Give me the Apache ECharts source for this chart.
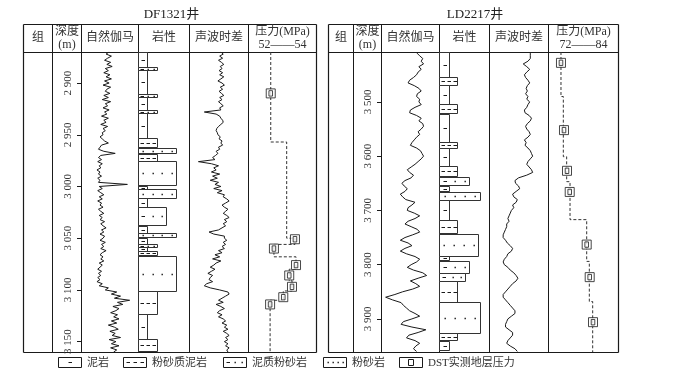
<!DOCTYPE html>
<html>
<head>
<meta charset="utf-8">
<script src="https://cdn.jsdelivr.net/npm/echarts@6/dist/echarts.min.js"></script>
<style>html,body{margin:0;background:#fff}#main{width:678px;height:390px}</style>
</head>
<body>
<div id="main"></div>
<script>
// ---- DF1321 well: logs sampled every 2 m from 2870 m ----
var dfStart = 2870, dfStep = 2;
var dfGR = [
  74, 66, 80, 70, 62, 78, 68, 82, 64, 72,
  60, 76, 66, 80, 62, 74, 58, 78, 68, 64,
  76, 60, 72, 56, 78, 64, 70, 58, 74, 62,
  68, 54, 72, 60, 66, 52, 70, 58, 64, 56,
  58, 50, 56, 62, 72, 54, 50, 46, 60, 90,
  52, 46, 54, 44, 56, 48, 52, 42, 50, 46,
  54, 44, 50, 46, 122, 48, 56, 44, 52, 60,
  48, 56, 44, 54, 50, 58, 46, 52, 60, 48,
  56, 50, 62, 52, 58, 66, 54, 60, 50, 62,
  58, 50, 64, 54, 60, 52, 66, 56, 50, 58,
  52, 60, 48, 56, 50, 44, 54, 46, 52, 44,
  50, 42, 56, 48, 72, 64, 94, 80, 104, 88,
  128, 96, 110, 84, 100, 92, 78, 96, 86, 100,
  80, 94, 72, 88, 98, 76, 90, 82, 104, 74,
  92, 80, 100, 78, 94, 86
];
var dfAC = [
  94, 98, 92, 97, 90, 95, 99, 93, 96, 91,
  97, 92, 99, 94, 89, 96, 100, 93, 97, 91,
  95, 99, 92, 96, 90, 94, 98, 92, 94, 66,
  86, 92, 94, 97, 98, 94, 90, 87, 86, 88,
  89, 93, 91, 96, 94, 97, 90, 92, 86, 89,
  85, 80, 84, 56, 78, 90, 82, 86, 78, 92,
  80, 88, 76, 90, 84, 94, 82, 96, 88, 100,
  98, 104, 108, 102, 96, 100, 106, 102, 98, 104,
  108, 100, 104, 98, 102, 96, 90, 74, 82, 100,
  100, 104, 98, 102, 96, 100, 90, 96, 84, 92,
  80, 94, 86, 82, 76, 84, 78, 72, 80, 76,
  74, 80, 70, 66, 76, 92, 106, 108, 102, 96,
  90, 98, 86, 94, 100, 92, 88, 96, 90, 98,
  102, 96, 104, 100, 106, 98, 104, 108, 102, 106,
  100, 106, 102, 108, 104, 106
];
// [top, bottom, grain, type]  type: 0 泥岩 1 粉砂质泥岩 2 泥质粉砂岩 3 粉砂岩
var dfLith = [
  [2870, 2884.5, 1, 0], [2884.5, 2887.7, 2, 2], [2887.7, 2910.9, 1, 0],
  [2910.9, 2913.5, 2, 2], [2913.5, 2926.4, 1, 0], [2926.4, 2929, 2, 2],
  [2929, 2952.8, 1, 0], [2952.8, 2961.9, 2, 1], [2962.5, 2967.7, 4, 3],
  [2968.3, 2974.8, 2, 1], [2975.4, 2999, 4, 3], [2999.4, 3002.2, 1, 0],
  [3002.6, 3010.9, 4, 3], [3010.9, 3019.9, 1, 0], [3020.3, 3037.6, 3, 2],
  [3037.8, 3045, 1, 0], [3045.4, 3049.6, 4, 3], [3050, 3055.4, 1, 0],
  [3055.8, 3058.6, 2, 2], [3058.8, 3062.5, 1, 0], [3062.7, 3066.6, 2, 1],
  [3067.3, 3101.1, 4, 3], [3101.1, 3123.1, 2, 1], [3123.1, 3147.2, 1, 0],
  [3147.2, 3158.5, 2, 1]
];
// [depth, MPa]
var dfDST = [[2910, 52.47], [3051, 53.61], [3060, 52.62], [3076, 53.66],
  [3086, 53.34], [3097, 53.47], [3107, 53.06], [3114, 52.44]];
var dfProfile = [[2870, 52.47], [2957, 52.47], [2957, 53.22], [3050, 53.22],
  [3050, 53.61], [3056, 53.61], [3056, 52.62], [3068, 52.62], [3068, 53.66],
  [3080, 53.66], [3080, 53.34], [3091, 53.34], [3091, 53.47], [3101, 53.47],
  [3101, 53.06], [3110, 53.06], [3110, 52.44], [3160, 52.44]];
var dfTicks = [2900, 2950, 3000, 3050, 3100, 3150];

// ---- LD2217 well: logs sampled every 5 m from 3410 m ----
var ldStart = 3410, ldStep = 5;
var ldGR = [
  93, 100, 108, 104, 110, 98, 104, 96, 92, 84,
  74, 70, 86, 98, 104, 94, 92, 100, 98, 104,
  88, 76, 74, 92, 104, 98, 108, 110, 104, 96,
  100, 92, 86, 80, 76, 92, 102, 106, 110, 104,
  96, 88, 78, 68, 74, 84, 78, 62, 54, 60,
  68, 62, 50, 56, 64, 88, 80, 70, 68, 86,
  100, 88, 70, 62, 78, 94, 100, 82, 62, 50,
  70, 80, 62, 50, 66, 88, 100, 92, 78, 68,
  84, 108, 118, 96, 76, 90, 100, 82, 56, 36,
  12, 30, 52, 58, 66, 74, 88, 100, 80, 58,
  52, 80, 116, 96, 72, 66, 88, 100, 90, 84,
  92
];
var ldAC = [
  110, 110, 110, 106, 98, 104, 109, 104, 100, 102,
  106, 109, 105, 103, 105, 102, 106, 104, 109, 106,
  104, 100, 101, 108, 112, 110, 105, 102, 104, 108,
  110, 106, 100, 103, 101, 106, 110, 112, 114, 110,
  106, 104, 108, 112, 114, 104, 90, 84, 85, 90,
  92, 86, 80, 82, 88, 86, 80, 82, 78, 76,
  74, 72, 74, 70, 70, 68, 66, 64, 64, 68,
  71, 76, 80, 78, 72, 70, 66, 64, 66, 72,
  76, 82, 86, 89, 86, 80, 76, 72, 68, 64,
  64, 68, 72, 76, 80, 84, 84, 78, 72, 70,
  68, 68, 74, 80, 80, 76, 72, 70, 76, 84,
  88
];
var ldLith = [
  [3408, 3454, 1, 0], [3454, 3469.4, 1.8, 1], [3469.4, 3504.4, 1, 0],
  [3504.4, 3521.6, 1.8, 1], [3521.6, 3573.7, 1, 0], [3573.7, 3584.8, 1.8, 1],
  [3584.8, 3618.6, 1, 0], [3618.6, 3637, 1.8, 1], [3638.2, 3653.6, 3, 2],
  [3654.8, 3664.6, 1, 0], [3665.8, 3681.2, 4.1, 3], [3681.2, 3718, 1, 0],
  [3718, 3742.6, 1.8, 1], [3742.6, 3782.5, 3.9, 3], [3783.7, 3791.7, 1, 0],
  [3792.9, 3815, 3, 2], [3815, 3829.7, 2.6, 2], [3829.7, 3869.6, 1.8, 1],
  [3869.6, 3926.7, 4.1, 3], [3926.7, 3940.2, 1.8, 1], [3940.2, 3957.4, 1, 0]
];
var ldDST = [[3428, 71.85], [3552, 72.65], [3627, 73.45], [3666, 74.17],
  [3763, 78.68], [3823, 79.48], [3906, 80.36]];
var ldProfile = [[3408, 71.85], [3490, 71.85], [3490, 72.47], [3601, 72.47],
  [3601, 73.36], [3647, 73.36], [3647, 74.25], [3717, 74.25], [3717, 78.68],
  [3794, 78.68], [3794, 79.38], [3868, 79.38], [3868, 80.27], [3961, 80.27]];
var ldTicks = [3500, 3600, 3700, 3800, 3900];

var lithNames = ['泥岩', '粉砂质泥岩', '泥质粉砂岩', '粉砂岩'];
var lithPattern = [['d'], ['d', 'd', 'd'], ['d', 'o', 'o'], ['o', 'o', 'o', 'o']];

var FONT = "'Liberation Serif', 'Noto Sans CJK SC', serif";
var INK = '#1a1a1a';

function logPairs(vals, start, step) {
  return vals.map(function (v, i) { return [v, start + i * step]; });
}

function marks(x, cy, w, t) {
  var p = lithPattern[t], n = p.length, out = [];
  cy = Math.round(cy) + 0.5;
  for (var i = 0; i < n; i++) {
    var cx = Math.round(x + w * (i + 0.5) / n);
    if (p[i] === 'd') {
      out.push({type: 'line', shape: {x1: cx - 1.5, y1: cy, x2: cx + 2, y2: cy},
        style: {stroke: INK, lineWidth: 1}});
    } else {
      out.push({type: 'rect', shape: {x: cx - 0.5, y: cy - 0.7, width: 1.4, height: 1.4},
        style: {fill: INK}});
    }
  }
  return out;
}

function renderLith(params, api) {
  var a = api.coord([0, api.value(0)]);
  var b = api.coord([api.value(2), api.value(1)]);
  var x = Math.round(a[0]) + 0.5, y = Math.round(a[1]) + 0.5;
  var w = Math.round(b[0] - a[0]), h = Math.max(1, Math.round(b[1] - a[1]));
  var kids = [{type: 'rect', shape: {x: x, y: y, width: w, height: h},
    style: {fill: '#fff', stroke: '#333', lineWidth: 1}}];
  return {type: 'group', children: kids.concat(marks(x, y + h / 2 - 0.5, w, api.value(3)))};
}

var wells = [
  {title: 'DF1321井', range: [2870, 3160], ticks: dfTicks,
   cols: [23, 52, 81, 138, 189, 248, 316], lithMax: 5.4, pRange: [51.4, 54.6], pLabel: '52——54',
   gr: logPairs(dfGR, dfStart, dfStep), ac: logPairs(dfAC, dfStart, dfStep),
   lith: dfLith, dst: dfDST, profile: dfProfile},
  {title: 'LD2217井', range: [3408, 3961], ticks: ldTicks,
   cols: [328, 353, 381, 439, 489, 548, 618], lithMax: 5, pRange: [68.4, 87], pLabel: '72——84',
   gr: logPairs(ldGR, ldStart, ldStep), ac: logPairs(ldAC, ldStart, ldStep),
   lith: ldLith, dst: ldDST, profile: ldProfile}
];

var TOP = 24, HEAD = 52, BOTTOM = 352;
var grids = [], xAxes = [], yAxes = [], series = [], graphics = [];

function text(str, x, y, size, color) {
  graphics.push({type: 'text', x: x, y: y, silent: true,
    style: {text: str, font: size + 'px ' + FONT, fill: color || '#333',
      align: 'center', verticalAlign: 'middle', textAlign: 'center', textVerticalAlign: 'middle'}});
}
function line(x1, y1, x2, y2, lw) {
  graphics.push({type: 'line', silent: true, shape: {x1: x1, y1: y1, x2: x2, y2: y2},
    style: {stroke: INK, lineWidth: lw || 1}});
}

wells.forEach(function (w, k) {
  var c = w.cols;
  var xr = [[0, 150], [0, w.lithMax], [40, 140], w.pRange];
  for (var j = 0; j < 4; j++) {
    var gi = k * 4 + j;
    grids.push({left: c[j + 2], top: HEAD, width: c[j + 3] - c[j + 2], height: BOTTOM - HEAD,
      containLabel: false, outerBoundsMode: 'none'});
    xAxes.push({gridIndex: gi, type: 'value', min: xr[j][0], max: xr[j][1], show: false});
    var ya = {gridIndex: gi, type: 'value', inverse: true, min: w.range[0], max: w.range[1],
      show: j === 0, splitLine: {show: false}};
    if (j === 0) {
      ya.position = 'left';
      ya.axisLine = {show: true, onZero: false, lineStyle: {color: INK}};
      ya.axisTick = {show: true, length: 4, customValues: w.ticks, lineStyle: {color: INK}};
      ya.axisLabel = {rotate: 90, margin: 7, fontSize: 11, color: '#333', fontFamily: 'Liberation Serif',
        customValues: w.ticks,
        formatter: function (v) { var s = String(v); return s.charAt(0) + ' ' + s.slice(1); }};
    }
    yAxes.push(ya);
  }
  var g0 = k * 4;
  series.push({type: 'line', xAxisIndex: g0, yAxisIndex: g0, data: w.gr, showSymbol: false,
    lineStyle: {color: INK, width: 1}, silent: true});
  series.push({type: 'custom', xAxisIndex: g0 + 1, yAxisIndex: g0 + 1, data: w.lith,
    encode: {x: 2, y: [0, 1]}, renderItem: renderLith, silent: true});
  series.push({type: 'line', xAxisIndex: g0 + 2, yAxisIndex: g0 + 2, data: w.ac, showSymbol: false,
    lineStyle: {color: INK, width: 1}, silent: true});
  series.push({type: 'line', xAxisIndex: g0 + 3, yAxisIndex: g0 + 3,
    data: w.profile.map(function (d) { return [d[1], d[0]]; }), showSymbol: false,
    lineStyle: {color: '#333', width: 1, type: [3, 2]}, silent: true});
  series.push({type: 'scatter', xAxisIndex: g0 + 3, yAxisIndex: g0 + 3, z: 5,
    data: w.dst.map(function (d) { return [d[1], d[0]]; }),
    symbol: 'path://M0,0H10V10H0ZM3,2H7V8H3Z', symbolSize: 9,
    itemStyle: {color: '#fff', borderColor: INK, borderWidth: 1}, silent: true});

  // table frame
  var L = c[0] + 0.5, R = c[6] + 0.5;
  line(L, TOP + 0.5, R, TOP + 0.5, 1.2);
  line(L, BOTTOM + 0.5, R, BOTTOM + 0.5, 1.2);
  line(L, TOP + 0.5, L, BOTTOM + 0.5, 1.2);
  line(R, TOP + 0.5, R, BOTTOM + 0.5, 1.2);
  line(L, HEAD + 0.5, R, HEAD + 0.5, 1);
  for (var i = 1; i < 6; i++) line(c[i] + 0.5, TOP + 0.5, c[i] + 0.5, BOTTOM + 0.5, 1);

  // headers
  var mid = function (i) { return (c[i] + c[i + 1]) / 2 + 0.5; };
  text(w.title, (c[0] + c[6]) / 2 + 2, 15, 13, '#222');
  text('组', mid(0), 38, 12);
  text('深度', mid(1), 32, 12);
  text('(m)', mid(1), 45, 12);
  text('自然伽马', mid(2), 38, 12);
  text('岩性', mid(3), 38, 12);
  text('声波时差', mid(4), 38, 12);
  text('压力(MPa)', mid(5), 32, 12);
  text(w.pLabel, mid(5), 45, 12);
});

// bottom legend
var legendBoxes = [58, 123, 223, 323, 399];
var legendTexts = lithNames.concat(['DST实测地层压力']);
legendBoxes.forEach(function (bx, i) {
  var kids = [{type: 'rect', shape: {x: bx + 0.5, y: 357.5, width: 23, height: 10},
    style: {fill: '#fff', stroke: INK, lineWidth: 1}}];
  if (i < 4) {
    kids = kids.concat(marks(bx + 2, 362, 20, i));
  } else {
    kids.push({type: 'rect', shape: {x: bx + 9.5, y: 359.5, width: 5, height: 6},
      style: {fill: '#fff', stroke: INK, lineWidth: 1}});
  }
  graphics.push({type: 'group', silent: true, children: kids});
  graphics.push({type: 'text', x: bx + 29, y: 363, silent: true,
    style: {text: legendTexts[i], font: '11px ' + FONT, fill: '#333',
      align: 'left', verticalAlign: 'middle', textAlign: 'left', textVerticalAlign: 'middle'}});
});

var chart = echarts.init(document.getElementById('main'));
chart.setOption({
  animation: false,
  backgroundColor: '#fff',
  grid: grids,
  xAxis: xAxes,
  yAxis: yAxes,
  series: series,
  graphic: graphics
});
</script>
</body>
</html>
